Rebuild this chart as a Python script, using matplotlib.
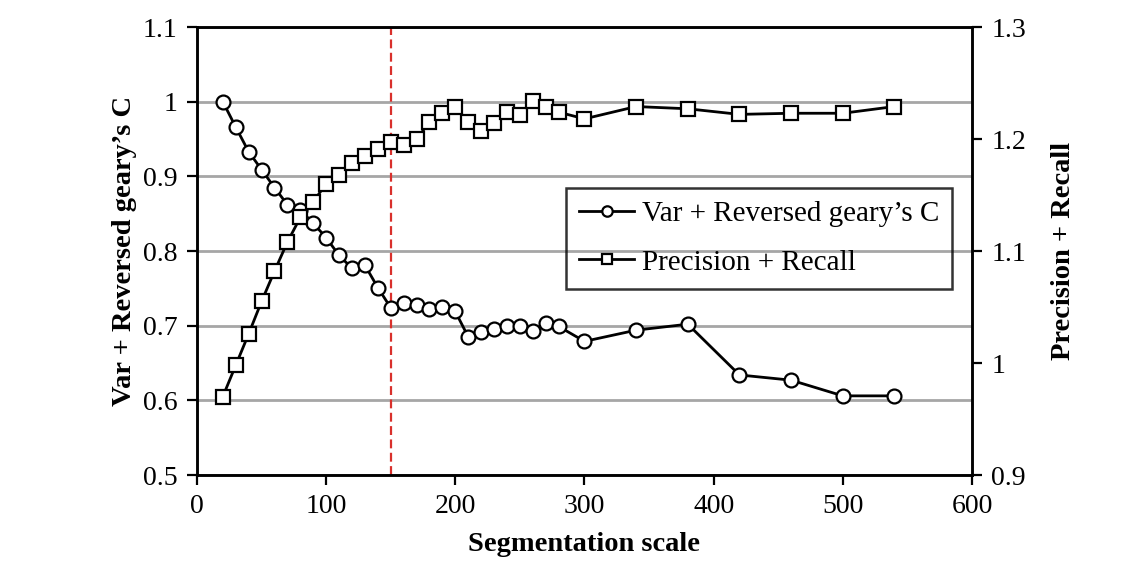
import numpy as np
import matplotlib
matplotlib.use("Agg")
import matplotlib.pyplot as plt
from matplotlib.ticker import FuncFormatter

plt.rcParams['font.family'] = ['Liberation Serif', 'DejaVu Serif']

# segmentation scales
x_var = [20, 30, 40, 50, 60, 70, 80, 90, 100, 110, 120, 130, 140, 150, 160, 170,
         180, 190, 200, 210, 220, 230, 240, 250, 260, 270, 280, 300, 340, 380,
         420, 460, 500, 540]
var_geary = [1.0, 0.966, 0.933, 0.909, 0.885, 0.862, 0.855, 0.837, 0.818, 0.794,
             0.777, 0.781, 0.751, 0.724, 0.731, 0.728, 0.722, 0.725, 0.719, 0.685,
             0.691, 0.696, 0.699, 0.699, 0.693, 0.703, 0.699, 0.679, 0.694, 0.702,
             0.634, 0.627, 0.606, 0.606]

x_pr = x_var
prec_recall = [0.970, 0.998, 1.026, 1.055, 1.082, 1.108, 1.130, 1.144, 1.160, 1.168,
               1.179, 1.185, 1.191, 1.197, 1.195, 1.200, 1.215, 1.223, 1.229, 1.215,
               1.207, 1.214, 1.224, 1.221, 1.234, 1.229, 1.224, 1.218, 1.229, 1.227,
               1.222, 1.223, 1.223, 1.229]

best_scale = 150

fig = plt.figure(figsize=(11.4, 5.63), dpi=100)
ax = fig.add_axes([0.1728, 0.1563, 0.6798, 0.7957])
ax2 = ax.twinx()

fmt = FuncFormatter(lambda v, p: ('%g' % round(v, 2)))

ax.set_xlim(0, 600)
ax.set_ylim(0.5, 1.1)
ax2.set_ylim(0.9, 1.3)
ax.set_xticks(np.arange(0, 601, 100))
ax.set_yticks(np.arange(0.5, 1.11, 0.1))
ax2.set_yticks(np.arange(0.9, 1.31, 0.1))
ax.yaxis.set_major_formatter(fmt)
ax2.yaxis.set_major_formatter(fmt)

ax.grid(axis='y', color='#a6a6a6', linewidth=2)
ax.set_axisbelow(True)

l1, = ax.plot(x_var, var_geary, '-o', color='black', lw=2, ms=10,
              mfc='white', mec='black', mew=1.6, label='Var + Reversed geary’s C', zorder=3)
l2, = ax2.plot(x_pr, prec_recall, '-s', color='black', lw=2, ms=10,
               mfc='white', mec='black', mew=1.6, label='Precision + Recall', zorder=3)
ax.axvline(best_scale, color='#d9302c', lw=1.6, ls=(0, (4, 2)), zorder=2)

for a in (ax, ax2):
    a.tick_params(labelsize=20, width=1.6, length=7, direction='out', pad=7)
    for s in a.spines.values():
        s.set_linewidth(1.8)

ax.set_xlabel('Segmentation scale', fontsize=20.5, fontweight='bold', labelpad=9)
ax.set_ylabel('Var + Reversed geary’s C', fontsize=20.5, fontweight='bold', labelpad=4)
ax2.set_ylabel('Precision + Recall', fontsize=20.5, fontweight='bold', labelpad=18)

leg = ax2.legend(handles=[l1, l2], loc='upper left', bbox_to_anchor=(0.476, 0.641),
                 borderaxespad=0, fontsize=21, fancybox=False, edgecolor='black',
                 facecolor='none', framealpha=None, markerscale=0.75,
                 handlelength=1.9, borderpad=0.45, labelspacing=0.75, handletextpad=0.25)
leg.get_frame().set_linewidth(1.8)

fig.savefig('out.png', dpi=100)
